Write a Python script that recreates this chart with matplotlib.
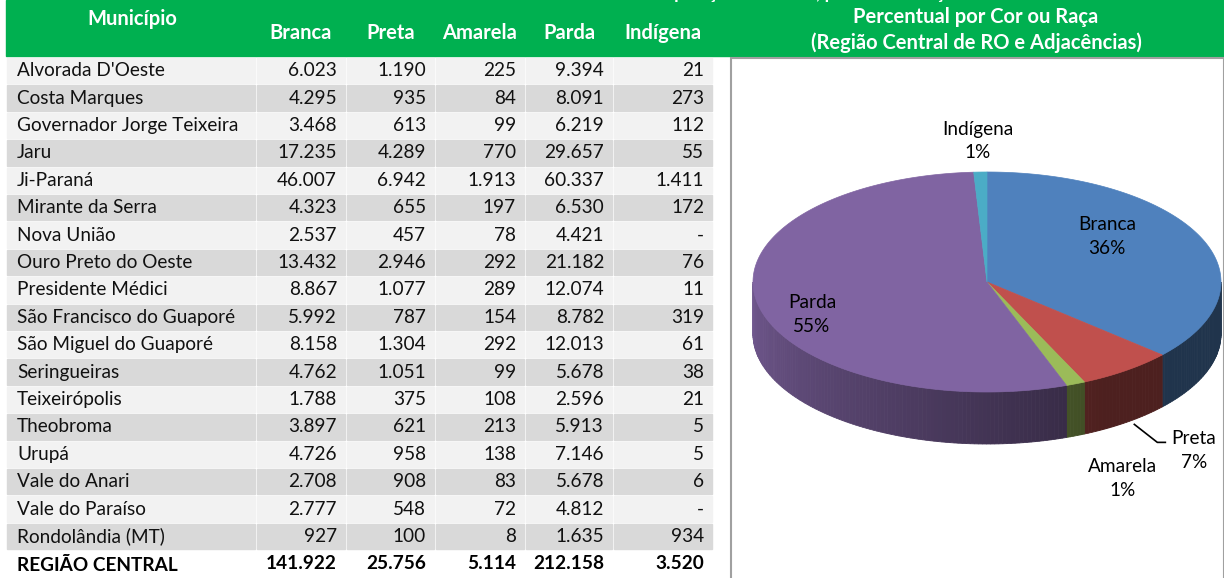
import numpy as np
import matplotlib
matplotlib.use("Agg")
import matplotlib.pyplot as plt
from matplotlib.patches import Rectangle, Polygon
from matplotlib.colors import to_rgb

plt.rcParams['font.family'] = ['Lato', 'DejaVu Sans']

# table data
municipios = ["Alvorada D'Oeste", "Costa Marques", "Governador Jorge Teixeira", "Jaru",
              "Ji-Paraná", "Mirante da Serra", "Nova União", "Ouro Preto do Oeste",
              "Presidente Médici", "São Francisco do Guaporé", "São Miguel do Guaporé",
              "Seringueiras", "Teixeirópolis", "Theobroma", "Urupá", "Vale do Anari",
              "Vale do Paraíso", "Rondolândia (MT)"]
branca = [6023, 4295, 3468, 17235, 46007, 4323, 2537, 13432, 8867, 5992, 8158, 4762, 1788, 3897, 4726, 2708, 2777, 927]
preta = [1190, 935, 613, 4289, 6942, 655, 457, 2946, 1077, 787, 1304, 1051, 375, 621, 958, 908, 548, 100]
amarela = [225, 84, 99, 770, 1913, 197, 78, 292, 289, 154, 292, 99, 108, 213, 138, 83, 72, 8]
parda = [9394, 8091, 6219, 29657, 60337, 6530, 4421, 21182, 12074, 8782, 12013, 5678, 2596, 5913, 7146, 5678, 4812, 1635]
indigena = [21, 273, 112, 55, 1411, 172, None, 76, 11, 319, 61, 38, 21, 5, 5, 6, None, 934]

total_label = "REGIÃO CENTRAL"
totais = [141922, 25756, 5114, 212158, 3520]
categorias = ["Branca", "Preta", "Amarela", "Parda", "Indígena"]
cores = ["#4F81BD", "#C0504D", "#9BBB59", "#8064A2", "#4BACC6"]

titulo_tabela = "Tabela 3 - População residente, por Cor ou Raça - 2010"
titulo_grafico = "Percentual por Cor ou Raça\n(Região Central de RO e Adjacências)"


def fmt(v):
    if v is None:
        return "-"
    return f"{v:,}".replace(",", ".")


W, H = 1224, 578
fs = 13.7
fig = plt.figure(figsize=(W / 100, H / 100), dpi=100)
ax = fig.add_axes([0, 0, 1, 1])
ax.set_xlim(0, W)
ax.set_ylim(H, 0)
ax.axis('off')

green = "#00B050"
ax.add_patch(Rectangle((6, 0), W - 6, 56, color=green, zorder=1))
ax.text(790, -7, titulo_tabela, color="white", fontsize=13, fontweight="bold",
        ha="center", va="center", zorder=2)

# column layout
col_left = [7, 257, 347, 436, 526, 614]
col_right = [255, 345, 434, 524, 612, 712]
ax.text(132, 19, "Município", color="white", fontsize=14.5, fontweight="bold",
        ha="center", va="center")
for k, cat in enumerate(categorias):
    xc = (col_left[k + 1] + col_right[k + 1]) / 2
    ax.text(xc, 33, cat, color="white", fontsize=14.5, fontweight="bold",
            ha="center", va="center")

top0 = 58
rh = 27.4
linhas = list(zip(municipios, branca, preta, amarela, parda, indigena))
for i, row in enumerate(linhas):
    y0 = top0 + i * rh
    bg = "#F2F2F2" if i % 2 == 0 else "#D9D9D9"
    for c in range(6):
        ax.add_patch(Rectangle((col_left[c], y0), col_right[c] - col_left[c], rh - 2,
                               color=bg, zorder=1))
    yc = y0 + rh / 2 - 1
    ax.text(17, yc, row[0], fontsize=fs, ha="left", va="center", color="#111111")
    for c in range(1, 6):
        ax.text(col_right[c] - 8, yc, fmt(row[c]), fontsize=fs, ha="right",
                va="center", color="#111111")

y_tot = top0 + len(linhas) * rh + rh / 2 - 1
ax.text(17, y_tot + 2, total_label, fontsize=fs, fontweight="bold", ha="left", va="center")
for c in range(1, 6):
    ax.text(col_right[c] - 8, y_tot, fmt(totais[c - 1]), fontsize=fs, fontweight="bold",
            ha="right", va="center")

# chart box
ax.add_patch(Rectangle((731, 58), W - 731, H - 58 + 5, facecolor="white",
                       edgecolor="#A0A0A0", lw=1.5, zorder=1))
ax.text(976, 30, titulo_grafico, color="white", fontsize=14.5, fontweight="bold",
        ha="center", va="center", linespacing=1.3, zorder=2)

# 3D pie
cx, cy, rx, ry, depth = 987, 282, 234, 110, 52
tot = sum(totais)
frac = np.array(totais) / tot
bounds = np.concatenate([[0], np.cumsum(frac)]) * 360

# percentages rounded so they add up to 100
raw = frac * 100
pct_int = np.floor(raw).astype(int)
resto = 100 - pct_int.sum()
for j in np.argsort(-(raw - pct_int))[:resto]:
    pct_int[j] += 1
pct = [f"{p}%" for p in pct_int]


def pt(theta_deg, dy=0):
    t = np.radians(theta_deg)
    return cx + rx * np.sin(t), cy - ry * np.cos(t) + dy


def shade(theta):
    return 0.4 + 0.48 * np.clip((theta - 150) / 120, 0, 1)


# side faces
for k in range(len(totais)):
    a, b = max(bounds[k], 90), min(bounds[k + 1], 270)
    if b <= a:
        continue
    steps = np.linspace(a, b, int((b - a) / 1.0) + 2)
    base = np.array(to_rgb(cores[k]))
    for s0, s1 in zip(steps[:-1], steps[1:]):
        col = base * shade((s0 + s1) / 2)
        ax.add_patch(Polygon([pt(s0), pt(s1), pt(s1, depth), pt(s0, depth)], closed=True,
                             facecolor=col, edgecolor=col, lw=0.6, zorder=3))

# top faces
for k in range(len(totais)):
    th = np.linspace(bounds[k], bounds[k + 1], 200)
    pts = [(cx, cy)] + [pt(t) for t in th]
    ax.add_patch(Polygon(pts, closed=True, facecolor=cores[k], edgecolor=cores[k],
                         lw=0.5, zorder=4))

label_pos = [(1107, 236), None, (1123, 479), (812, 315), (978, 141)]
for k in range(len(totais)):
    if label_pos[k] is None:
        continue
    ax.text(label_pos[k][0], label_pos[k][1], f"{categorias[k]}\n{pct[k]}",
            fontsize=fs, ha="center", va="center", linespacing=1.5, zorder=5)

# Preta with leader line
mid = (bounds[1] + bounds[2]) / 2
lx, ly = pt(mid, depth)
ax.plot([lx + 8, lx + 31, lx + 39], [ly + 2, ly + 20, ly + 20], color="black",
        lw=1.2, zorder=5)
ax.text(1194, 450, f"{categorias[1]}\n{pct[1]}", fontsize=fs, ha="center",
        va="center", linespacing=1.5, zorder=5)

fig.savefig("out.png", dpi=100)
